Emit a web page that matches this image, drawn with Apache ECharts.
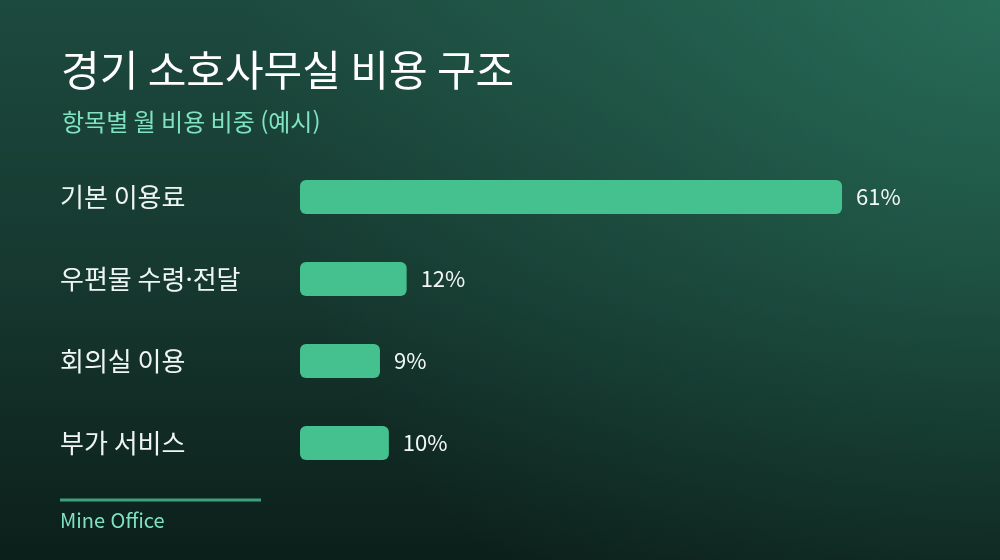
<!DOCTYPE html>
<html lang="ko">
<head>
    <meta charset="utf-8">
    <title>경기 소호사무실 비용 구조</title>
    <style type="text/css">
        html, body { margin: 0; padding: 0; background: #0e201b; }
        #page { width: 1000px; height: 560px; }
    </style>
</head>
<body>
<div id="page"></div>
<script src="https://cdn.jsdelivr.net/npm/echarts@6/dist/echarts.min.js"></script>
<script>
    // 항목 / 비중(%)
    var categories = ['기본 이용료', '우편물 수령·전달', '회의실 이용', '부가 서비스'];
    var shares = [61, 12, 9, 10];

    var titleText = '경기 소호사무실 비용 구조';
    var subText = '항목별 월 비용 비중 (예시)';
    var brandText = 'Mine Office';

    (function () {
        var font = '"Noto Sans CJK KR", "Noto Sans", sans-serif';
        var mint = '#7fe3c1';
        var chart = echarts.init(document.getElementById('page'));

        var option = {
            // 위→아래로 어두워지는 바탕
            backgroundColor: {
                type: 'linear',
                x: 0, y: 0, x2: 0, y2: 1,
                colorStops: [
                    {offset: 0, color: '#1d4a3e'},
                    {offset: 0.5, color: '#16382f'},
                    {offset: 1, color: '#0c1f1a'}
                ]
            },
            animation: false,
            title: [{
                text: titleText,
                left: 56,
                top: 44,
                textStyle: {color: '#ffffff', fontFamily: font, fontSize: 42, fontWeight: 400}
            }, {
                text: subText,
                left: 57,
                top: 105,
                textStyle: {color: mint, fontFamily: font, fontSize: 24, fontWeight: 400}
            }],
            grid: {left: 300, right: 78, top: 156, bottom: 76},
            xAxis: {
                type: 'value',
                min: 0,
                max: 70,
                show: false
            },
            yAxis: {
                type: 'category',
                inverse: true,
                data: categories,
                axisLine: {show: false},
                axisTick: {show: false},
                axisLabel: {
                    align: 'left',
                    margin: 240,
                    color: '#eef5f2',
                    fontFamily: font,
                    fontSize: 26
                }
            },
            series: [{
                type: 'bar',
                data: shares,
                barWidth: 34,
                itemStyle: {color: '#45c190', borderRadius: 6},
                label: {
                    show: true,
                    position: 'right',
                    distance: 14,
                    formatter: '{c}%',
                    color: '#f2f7f5',
                    fontFamily: font,
                    fontSize: 22
                }
            }],
            graphic: [{
                // 오른쪽 위 빛번짐
                type: 'rect',
                z: -10,
                silent: true,
                shape: {x: 0, y: 0, width: 1000, height: 560},
                style: {
                    fill: {
                        type: 'radial',
                        x: 1000, y: 0, r: 760,
                        global: true,
                        colorStops: [
                            {offset: 0, color: 'rgba(60,180,140,0.32)'},
                            {offset: 0.5, color: 'rgba(60,180,140,0.15)'},
                            {offset: 1, color: 'rgba(60,180,140,0)'}
                        ]
                    }
                }
            }, {
                type: 'rect',
                shape: {x: 60, y: 498.5, width: 201, height: 3},
                style: {fill: '#3e9f7b'}
            }, {
                type: 'text',
                left: 60,
                top: 510,
                style: {text: brandText, fill: mint, font: '20px ' + font}
            }]
        };
        chart.setOption(option);
    })();
</script>
</body>
</html>
